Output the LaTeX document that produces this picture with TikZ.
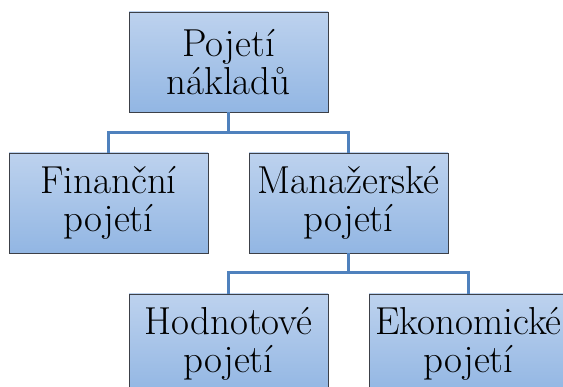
\documentclass[tikz,border=0pt]{standalone}
\definecolor{boxtop}{RGB}{189,210,238}
\definecolor{boxbottom}{RGB}{146,182,227}
\definecolor{boxline}{RGB}{60,64,72}
\definecolor{linkcol}{RGB}{79,129,189}
\tikzset{
  orgbox/.style={draw=boxline, line width=0.9pt, top color=boxtop, bottom color=boxbottom,
    minimum width=199pt, minimum height=100pt, inner sep=0pt, align=center,
    font=\rmfamily\fontsize{39}{38}\selectfont},
  link/.style={draw=linkcol, line width=3pt}
}
\begin{document}
\begin{tikzpicture}[x=1pt, y=-1pt]
  \useasboundingbox (0,0) rectangle (563,387);
  \clip (0,0) rectangle (563,387);
  % boxes, positioned by their centres
  \node[orgbox] (root) at (228.5,62)  {Pojetí\\nákladů};
  \node[orgbox] (fin)  at (108.5,203) {Finanční\\pojetí};
  \node[orgbox] (man)  at (348.5,203) {Manažerské\\pojetí};
  \node[orgbox] (hod)  at (228.5,344) {Hodnotové\\pojetí};
  \node[orgbox] (eko)  at (468.5,344) {Ekonomické\\pojetí};
  % junction points of the elbow connectors
  \coordinate (j1) at (228.5,133);
  \coordinate (j2) at (348.5,273);
  \draw[link] (root.south) -- (j1) -| (fin.north);
  \draw[link] (j1) -| (man.north);
  \draw[link] (man.south) -- (j2) -| (hod.north);
  \draw[link] (j2) -| (eko.north);
\end{tikzpicture}
\end{document}
